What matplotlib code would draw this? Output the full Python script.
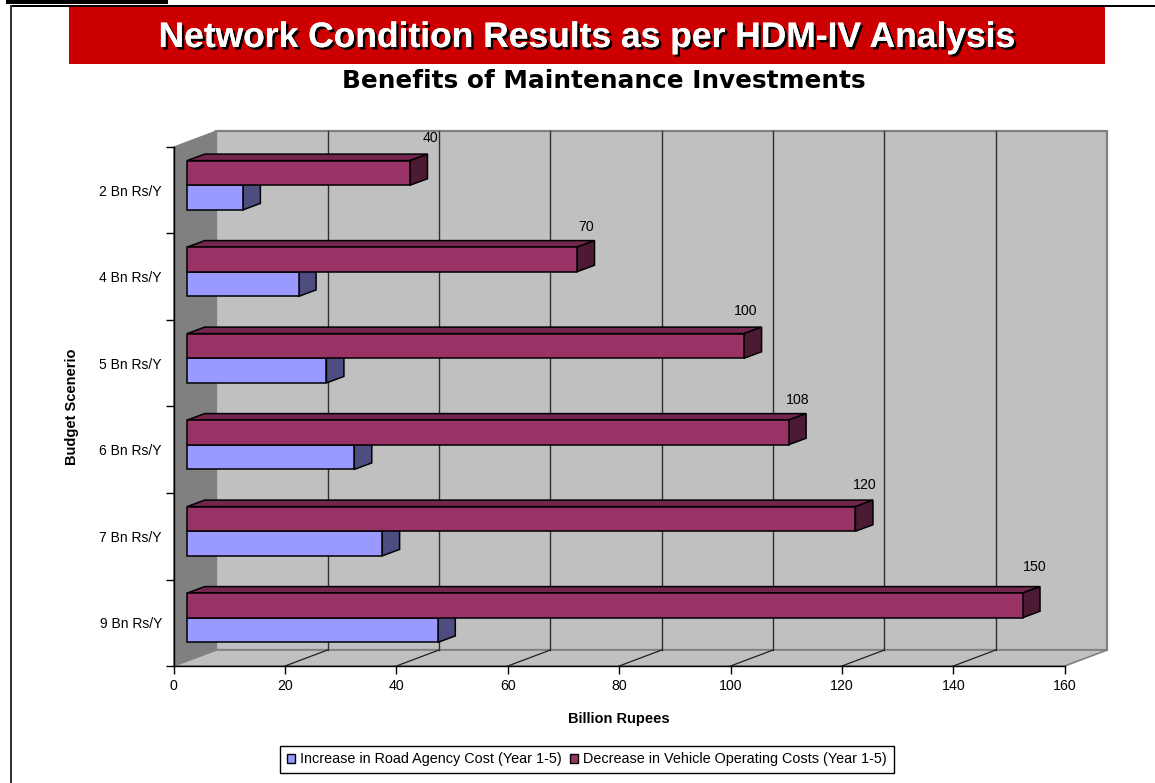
import matplotlib
matplotlib.use("Agg")
import matplotlib.pyplot as plt
import matplotlib.patheffects as pe
from matplotlib.patches import Polygon, Rectangle, Patch
from matplotlib.transforms import Affine2D

categories = ["2 Bn Rs/Y", "4 Bn Rs/Y", "5 Bn Rs/Y", "6 Bn Rs/Y", "7 Bn Rs/Y", "9 Bn Rs/Y"]
road_agency_cost = [10, 20, 25, 30, 35, 45]
vehicle_operating = [40, 70, 100, 108, 120, 150]
x_ticks = [0, 20, 40, 60, 80, 100, 120, 140, 160]
series_names = ["Increase in Road Agency Cost (Year 1-5)", "Decrease in Vehicle Operating Costs (Year 1-5)"]
main_title = "Network Condition Results as per HDM-IV Analysis"
sub_title = "Benefits of Maintenance Investments"

W, H = 1155, 783
WALL_DX, WALL_DY = 42.5, 16.0
BAR_DX, BAR_DY = 13.5, 5.0
DEPTH_DX, DEPTH_DY = 17.5, 6.5
BAR_H = 0.285
label_shift = [(20, 21), (9, 19), (2, 21), (9, 19), (9, 20), (12, 25)]

fig = plt.figure(figsize=(W / 100, H / 100), dpi=100, facecolor="white")
plt.rcParams["font.family"] = ["Liberation Sans", "DejaVu Sans"]
page = Affine2D().scale(1, -1).translate(0, H)
ax = fig.add_axes([173.7 / W, (H - 666) / H, 891 / W, 519 / H])
ax.set_xlim(0, 160)
ax.set_ylim(5.5, -0.5)
ax.patch.set_visible(False)

# page decoration
fig.add_artist(Rectangle((6, 0), 162, 4, transform=page, fc="black", ec="none"))
fig.add_artist(Rectangle((10, 5), 1145, 2, transform=page, fc="black", ec="none"))
fig.add_artist(Rectangle((10, 5), 1.5, 778, transform=page, fc="#333333", ec="none"))
fig.add_artist(Rectangle((69, 7), 1036, 57, transform=page, fc="#CC0000", ec="none"))
title = fig.text(587, 37.5, main_title, transform=page, color="white",
                 fontsize=25.5, fontweight="bold", ha="center", va="center", family="Liberation Sans")
title.set_path_effects([pe.withSimplePatchShadow(offset=(1.8, -1.8), shadow_rgbFace="black", alpha=1.0),
                        pe.Normal()])
fig.text(604, 80.5, sub_title, transform=page, color="black",
         fontsize=17.8, fontweight="bold", ha="center", va="center", family="DejaVu Sans")


def px(x, y, dx=0.0, dy=0.0):
    p = ax.transData.transform((x, y))
    return (p[0] + dx, p[1] + dy)


def poly(points, **kw):
    ax.add_patch(Polygon(points, closed=True, transform=None, clip_on=False, **kw))


top, bottom = -0.5, 5.5
xmax = x_ticks[-1]
# walls and floor
poly([px(0, top), px(0, top, WALL_DX, WALL_DY), px(0, bottom, WALL_DX, WALL_DY), px(0, bottom)],
     fc="#808080", ec="#808080", lw=0.8, zorder=1)
poly([px(0, top, WALL_DX, WALL_DY), px(xmax, top, WALL_DX, WALL_DY),
      px(xmax, bottom, WALL_DX, WALL_DY), px(0, bottom, WALL_DX, WALL_DY)],
     fc="#C0C0C0", ec="#808080", lw=1.6, zorder=1)
poly([px(0, bottom), px(0, bottom, WALL_DX, WALL_DY), px(xmax, bottom, WALL_DX, WALL_DY), px(xmax, bottom)],
     fc="#C0C0C0", ec="#808080", lw=1.2, zorder=1.1)

# gridlines on wall and floor
for t in x_ticks[1:-1]:
    a, b = px(t, top, WALL_DX, WALL_DY), px(t, bottom, WALL_DX, WALL_DY)
    c = px(t, bottom)
    ax.plot([a[0], b[0]], [a[1], b[1]], transform=None, color="#303030", lw=1.0, zorder=2, clip_on=False)
    ax.plot([b[0], c[0]], [b[1], c[1]], transform=None, color="#202020", lw=0.9, zorder=2, clip_on=False)


def bar3d(value, center, front, topc, side, z):
    y0, y1 = center - BAR_H / 2, center + BAR_H / 2
    p = lambda x, y, d=0.0: px(x, y, BAR_DX + d * DEPTH_DX, BAR_DY + d * DEPTH_DY)
    style = dict(ec="black", lw=1.1, joinstyle="miter", zorder=z)
    poly([p(0, y0), p(value, y0), p(value, y0, 1), p(0, y0, 1)], fc=topc, **style)
    poly([p(value, y0), p(value, y1), p(value, y1, 1), p(value, y0, 1)], fc=side, **style)
    poly([p(0, y0), p(value, y0), p(value, y1), p(0, y1)], fc=front, **style)


for i in range(len(categories)):
    z = 3 + i * 0.1
    bar3d(road_agency_cost[i], i + BAR_H / 2, "#9999FF", "#73739F", "#4D4D80", z)
    bar3d(vehicle_operating[i], i - BAR_H / 2, "#993366", "#73264D", "#4D1A33", z + 0.05)
    end = px(vehicle_operating[i], i - BAR_H / 2, BAR_DX, BAR_DY)
    ax.annotate(str(vehicle_operating[i]), xy=end, xycoords="figure pixels",
                xytext=(label_shift[i][0] * 0.72, label_shift[i][1] * 0.72 + 6.5 * 0.72),
                textcoords="offset points", ha="center", va="bottom", fontsize=10.2,
                annotation_clip=False, zorder=6)

# axes
for name in ("top", "right"):
    ax.spines[name].set_visible(False)
for name in ("left", "bottom"):
    ax.spines[name].set_linewidth(1.0)
    ax.spines[name].set_zorder(2.5)
ax.set_xticks(x_ticks)
ax.set_yticks(range(len(categories)), categories)
ax.set_yticks([v - 0.5 for v in range(len(categories) + 1)], minor=True)
ax.tick_params(axis="y", which="major", length=0, pad=8.5, labelsize=10)
ax.tick_params(axis="y", which="minor", length=6, width=1.0)
ax.tick_params(axis="x", length=6, width=1.0, pad=3.5, labelsize=10.2)
ax.set_xlabel("Billion Rupees", fontsize=10.5, fontweight="bold", va="center")
ax.set_ylabel("Budget Scenerio", fontsize=10.5, fontweight="bold", va="center")
ax.xaxis.set_label_coords(0.5, -(718.5 - 666) / 519)
ax.yaxis.set_label_coords((72 - 173.7) / 891, (666 - 407) / 519)

handles = [Patch(fc="#9999FF", ec="black", lw=1.0), Patch(fc="#993366", ec="black", lw=1.0)]
leg = fig.legend(handles, series_names, ncols=2, fontsize=10.4, frameon=True, fancybox=False,
                 edgecolor="black", framealpha=1, loc="center",
                 bbox_to_anchor=(587 / W, (H - 759.5) / H), handlelength=0.55, handleheight=0.55,
                 handletextpad=0.35, columnspacing=0.6, borderpad=0.45, borderaxespad=0)
leg.get_frame().set_linewidth(1.0)

fig.savefig("out.png", dpi=100, facecolor="white")
